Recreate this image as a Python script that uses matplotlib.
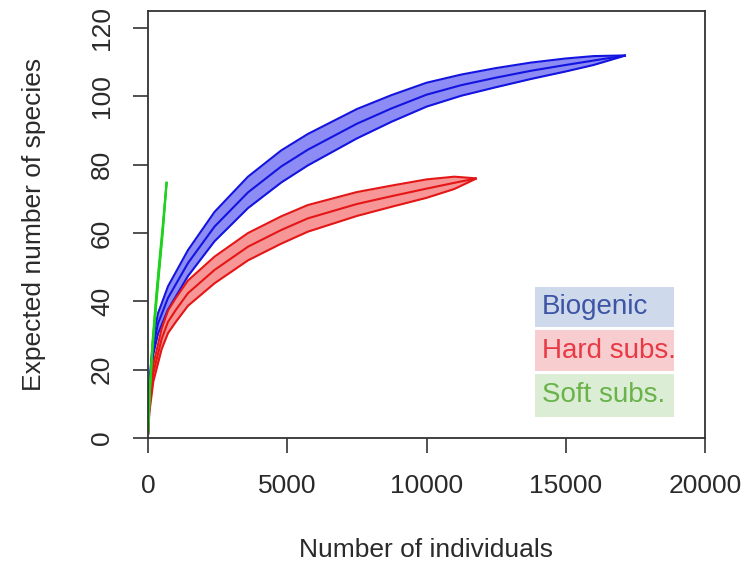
import matplotlib
matplotlib.use('Agg')
import matplotlib.pyplot as plt
from matplotlib.patches import Rectangle

plt.rcParams['font.family'] = ['Liberation Sans', 'DejaVu Sans']

# ---- data ----
bio_n    = [1, 50, 190, 359, 718, 1435, 2390, 3590, 4785, 5740, 7500, 8750, 10000, 11250, 12500, 13750, 15000, 16000, 17160]
bio_mean = [1, 15, 27, 33.5, 41, 51.2, 61.9, 71.9, 79.5, 84.4, 92, 96.5, 100.5, 103.3, 105.5, 107.5, 109.2, 110.5, 112]
bio_sd   = [0, 1.5, 2.5, 3.0, 3.4, 3.8, 4.3, 4.6, 4.7, 4.6, 4.3, 3.9, 3.5, 3.1, 2.8, 2.4, 1.9, 1.3, 0]

hard_n    = [1, 50, 190, 490, 718, 1000, 1435, 2390, 3590, 4785, 5740, 7500, 8750, 10000, 11000, 11800]
hard_mean = [1, 9, 19, 29, 34, 37.5, 42.4, 49.2, 56, 60.9, 64.3, 68.5, 70.8, 73, 74.7, 76]
hard_sd   = [0, 1.5, 2.5, 3.0, 3.3, 3.5, 3.7, 3.9, 4.0, 4.0, 3.9, 3.5, 3.1, 2.7, 1.8, 0]

soft_n    = [1, 60, 160, 312, 418, 528, 670]
soft_mean = [1, 13, 27, 42, 51.5, 61, 75]
soft_sd   = [0, 0.8, 1.1, 1.4, 1.4, 1.1, 0]

legend_labels = ['Biogenic', 'Hard subs.', 'Soft subs.']
x_ticks = [0, 5000, 10000, 15000, 20000]
y_ticks = [0, 20, 40, 60, 80, 100, 120]

# ---- figure ----
fig = plt.figure(figsize=(7.51, 5.62), dpi=100)
ax = fig.add_axes([148/751, 1-438/562, 557/751, 427/562])
ax.set_xlim(0, 20000)
ax.set_ylim(0, 125)

series = [
    (bio_n, bio_mean, bio_sd, '#8c8cf4', '#1414e0'),
    (hard_n, hard_mean, hard_sd, '#f69696', '#e41616'),
    (soft_n, soft_mean, soft_sd, '#9ef09e', '#1ed21e'),
]
for n, m, sd, fc, lc in series:
    lo = [a - b for a, b in zip(m, sd)]
    hi = [a + b for a, b in zip(m, sd)]
    ax.fill_between(n, lo, hi, color=fc, lw=0)
    for yy in (lo, m, hi):
        ax.plot(n, yy, color=lc, lw=1.5, solid_capstyle='butt', solid_joinstyle='round')

ax.set_xticks(x_ticks)
ax.set_xticklabels([str(v) for v in x_ticks])
ax.set_yticks(y_ticks)
ax.set_yticklabels([str(v) for v in y_ticks], rotation=90, va='center')
ax.tick_params(direction='out', length=11, width=1.2, color='#333333',
               labelsize=19, labelcolor='#2a2a2a')
ax.tick_params(axis='x', pad=15)
ax.tick_params(axis='y', pad=13.5)
for s in ax.spines.values():
    s.set_linewidth(1.3)
    s.set_color('#333333')

fig.text(426/751, 1-550/562, 'Number of individuals', ha='center', va='center',
         fontsize=19, color='#2a2a2a')
fig.text(34/751, 1-224/562, 'Expected number of species', ha='center', va='center',
         rotation=90, fontsize=19, color='#2a2a2a')

# ---- legend boxes ----
box_fc = ['#cfd9ec', '#f7cdd0', '#dcedd6']
txt_c = ['#3d55a5', '#e83a45', '#6ab34a']
box_top = [287, 330, 374]
box_bot = [327, 371, 417]
for lab, bfc, tc, t, b in zip(legend_labels, box_fc, txt_c, box_top, box_bot):
    y0 = (438 - b) / 427
    h = (b - t) / 427
    ax.add_patch(Rectangle(((535-148)/557, y0), (674-535)/557, h,
                           transform=ax.transAxes, facecolor=bfc, edgecolor='none'))
    ax.text((542-148)/557, y0 + h/2, lab, transform=ax.transAxes, ha='left',
            va='center', fontsize=20, color=tc)

fig.savefig('out.png', dpi=100)
